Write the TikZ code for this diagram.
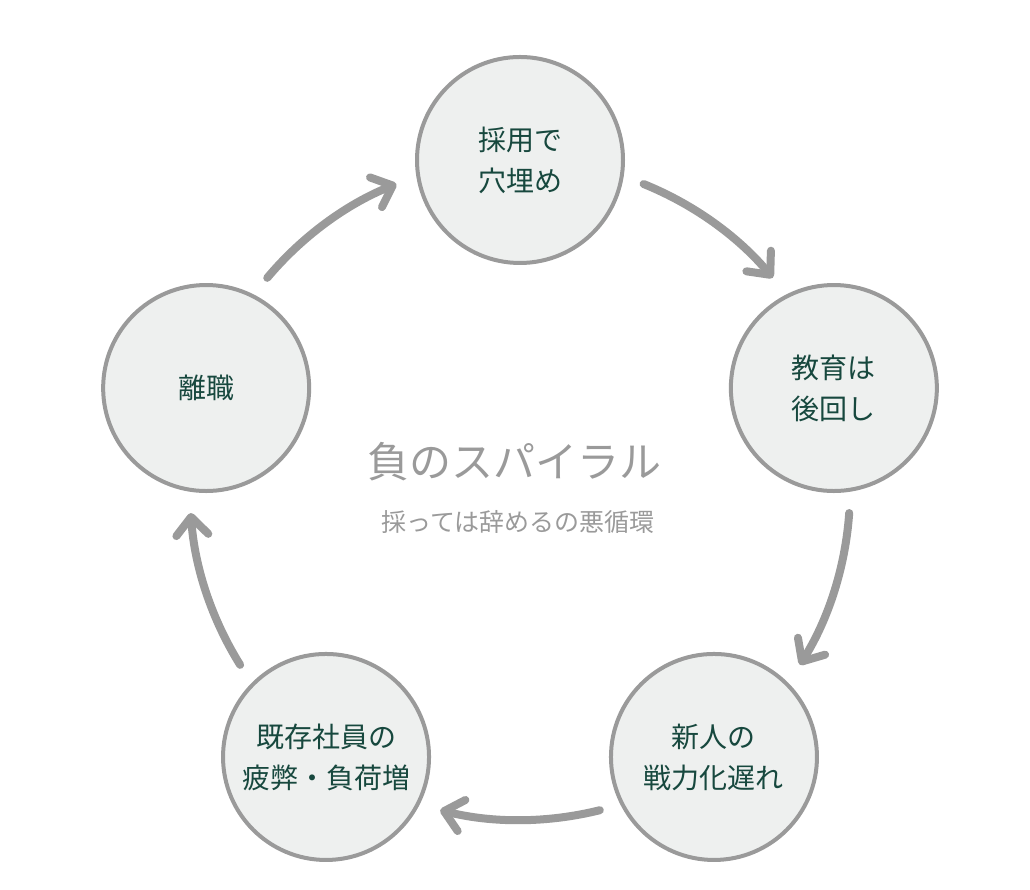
\documentclass[tikz,border=0pt]{standalone}
\usepackage{fontspec}
\setmainfont{Noto Sans CJK JP}
\usetikzlibrary{calc, arrows.meta}
\definecolor{ringgray}{HTML}{9A9A9A}
\definecolor{ringfill}{HTML}{EEF0EF}
\definecolor{stagetext}{HTML}{17483E}
\tikzset{
    stage/.style={circle, draw=ringgray, line width=4pt, fill=ringfill, minimum size=206pt,
        inner sep=0pt, align=center, text=stagetext, font=\fontsize{28}{41}\selectfont},
    cyc/.style={ringgray, line width=8pt, line cap=round,
        -{Straight Barb[length=18pt, width=32pt, round]}}
}

\begin{document}
\begin{tikzpicture}[x=1pt, y=1pt]
            \useasboundingbox (0,0) rectangle (1030,890);
            \coordinate (c) at (520,400);
            \foreach \i/\a/\t in {1/90/{採用で\\穴埋め}, 2/18/{教育は\\後回し}, 3/-54/{新人の\\戦力化遅れ},
                4/-126/{既存社員の\\疲弊・負荷増}, 5/162/{離職}}{
                \node[stage] (s\i) at ($(c)+(\a:330)$) {\t};
            }
            % arrows run along the same ring as the circles
            \foreach \a in {90, 18, -54, -126, 162}{
                \draw[cyc] ($(c)+(\a-22:330)$) arc[start angle=\a-22, end angle=\a-50, radius=330];
            }
            \node[ringgray, font=\fontsize{42}{50}\selectfont] (ttl) at ($(c)+(-6,28)$) {負のスパイラル};
            \node[ringgray, font=\fontsize{25}{30}\selectfont] (sub) at ($(c)+(-2,-32)$) {採っては辞めるの悪循環};
        \end{tikzpicture}
\end{document}
